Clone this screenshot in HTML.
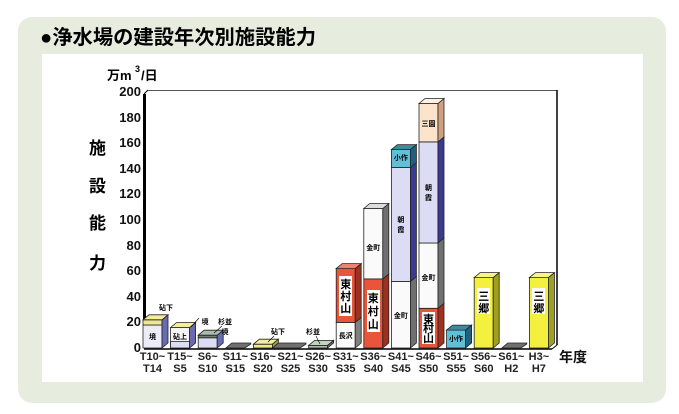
<!DOCTYPE html>
<html><head><meta charset="utf-8"><style>
body{margin:0;background:#fff;}
svg{display:block;font-family:"Liberation Sans","Noto Sans CJK JP",sans-serif;}
</style></head><body>
<svg width="679" height="414" viewBox="0 0 679 414" xmlns="http://www.w3.org/2000/svg">
<rect x="18" y="17" width="648" height="386" rx="14" fill="#e6eddf"/>
<rect x="42" y="54" width="601" height="328" fill="#fff"/>
<text x="40" y="44" font-size="20" font-weight="bold" fill="#000" textLength="276" lengthAdjust="spacingAndGlyphs">●浄水場の建設年次別施設能力</text>
<text x="107" y="80" font-size="13" font-weight="bold">万m</text><text x="135" y="72" font-size="9" font-weight="bold">3</text><text x="141" y="80" font-size="13" font-weight="bold">/日</text>
<g font-size="17" font-weight="bold"><text x="89" y="154">施</text><text x="89" y="192">設</text><text x="89" y="229">能</text><text x="89" y="269">力</text></g>
<g font-size="13" text-anchor="end" font-weight="bold" fill="#111">
<text x="141" y="352">0</text><text x="141" y="326">20</text><text x="141" y="301">40</text><text x="141" y="275">60</text><text x="141" y="250">80</text><text x="141" y="224">100</text><text x="141" y="198">120</text><text x="141" y="173">140</text><text x="141" y="147">160</text><text x="141" y="122">180</text><text x="141" y="96">200</text>
</g>
<g stroke="#000" fill="none">
<line x1="144.5" y1="348" x2="144.5" y2="94" stroke-width="3"/>
<line x1="144" y1="94" x2="148" y2="90"/>
<line x1="148" y1="90.5" x2="557" y2="90.5" stroke="#555"/>
<line x1="557" y1="90" x2="557" y2="345" stroke-width="1.5"/>
<line x1="144" y1="349" x2="552" y2="349" stroke-width="1.5"/>
<line x1="552" y1="349" x2="557" y2="345"/>
</g>
<g stroke="#222" stroke-width="0.8">
<rect x="143" y="325" width="19" height="23" fill="#ececf8"/><rect x="143" y="319.8" width="19" height="5.2" fill="#f0e890"/>
<polygon points="162,348 168,343 168,314.8 162,319.8" fill="#6a6ab0"/>
<polygon points="143,319.8 149,314.8 168,314.8 162,319.8" fill="#f4ee9a"/>
<rect x="170.6" y="327.5" width="19" height="20.5" fill="#f4f4f4"/><rect x="170.6" y="341.6" width="19" height="6.4" fill="#dcdcf4"/>
<polygon points="189.6,348 195.6,343 195.6,322.5 189.6,327.5" fill="#6a6ab0"/>
<polygon points="170.6,327.5 176.6,322.5 195.6,322.5 189.6,327.5" fill="#f4ee9a"/>
<rect x="198.2" y="337.8" width="19" height="10.2" fill="#dcdcf4"/><rect x="198.2" y="335.2" width="19" height="2.6" fill="#6c7c70"/>
<polygon points="217.2,348 223.2,343 223.2,330.2 217.2,335.2" fill="#6a6ab0"/>
<polygon points="198.2,335.2 204.2,330.2 223.2,330.2 217.2,335.2" fill="#aabcb0"/>
<polygon points="225.8,348 231.8,343 250.8,343 250.8,344 244.8,348" fill="#707070"/>
<rect x="253.4" y="344.2" width="19" height="3.8" fill="#f0e890"/>
<polygon points="253.4,344.2 259.4,339.2 278.4,339.2 272.4,344.2" fill="#f4ee9a"/>
<polygon points="272.4,348 278.4,343 278.4,339.2 272.4,344.2" fill="#a0a040"/>
<polygon points="278.4,343 306,343 306,344 300,348 272.4,348" fill="#707070"/>
<rect x="308.6" y="345.4" width="19" height="2.6" fill="#a8c0a8"/>
<polygon points="308.6,345.4 314.6,340.4 333.6,340.4 327.6,345.4" fill="#c0d4c0"/>
<polygon points="327.6,348 333.6,343 333.6,340.4 327.6,345.4" fill="#607060"/>
<rect x="336.2" y="322.4" width="19" height="25.6" fill="#fafafa"/><rect x="336.2" y="268.6" width="19" height="53.8" fill="#e8553a"/>
<polygon points="355.2,348 361.2,343 361.2,317.4 355.2,322.4" fill="#808080"/>
<polygon points="355.2,322.4 361.2,317.4 361.2,263.6 355.2,268.6" fill="#a03020"/>
<polygon points="336.2,268.6 342.2,263.6 361.2,263.6 355.2,268.6" fill="#f08070"/>
<rect x="363.8" y="278.9" width="19" height="69.1" fill="#e8553a"/><rect x="363.8" y="208.5" width="19" height="70.4" fill="#fafafa"/>
<polygon points="382.8,348 388.8,343 388.8,273.9 382.8,278.9" fill="#a03020"/>
<polygon points="382.8,278.9 388.8,273.9 388.8,203.5 382.8,208.5" fill="#707070"/>
<polygon points="363.8,208.5 369.8,203.5 388.8,203.5 382.8,208.5" fill="#ddd"/>
<rect x="391.4" y="281.4" width="19" height="66.6" fill="#fafafa"/><rect x="391.4" y="167.5" width="19" height="113.9" fill="#dcdcf4"/><rect x="391.4" y="149.6" width="19" height="17.9" fill="#60c0d8"/>
<polygon points="410.4,348 416.4,343 416.4,276.4 410.4,281.4" fill="#707070"/>
<polygon points="410.4,281.4 416.4,276.4 416.4,162.5 410.4,167.5" fill="#3a3a90"/>
<polygon points="410.4,167.5 416.4,162.5 416.4,144.6 410.4,149.6" fill="#206080"/>
<polygon points="391.4,149.6 397.4,144.6 416.4,144.6 410.4,149.6" fill="#3a8aa0"/>
<rect x="419" y="308.3" width="19" height="39.7" fill="#e8553a"/><rect x="419" y="243" width="19" height="65.3" fill="#fafafa"/><rect x="419" y="141.9" width="19" height="101.1" fill="#dcdcf4"/><rect x="419" y="103.5" width="19" height="38.4" fill="#fbe3cc"/>
<polygon points="438,348 444,343 444,303.3 438,308.3" fill="#a03020"/>
<polygon points="438,308.3 444,303.3 444,238 438,243" fill="#707070"/>
<polygon points="438,243 444,238 444,136.9 438,141.9" fill="#3a3a90"/>
<polygon points="438,141.9 444,136.9 444,98.5 438,103.5" fill="#d0a080"/>
<polygon points="419,103.5 425,98.5 444,98.5 438,103.5" fill="#fdf0e4"/>
<rect x="446.6" y="330.1" width="19" height="17.9" fill="#60c0d8"/>
<polygon points="465.6,348 471.6,343 471.6,325.1 465.6,330.1" fill="#206080"/>
<polygon points="446.6,330.1 452.6,325.1 471.6,325.1 465.6,330.1" fill="#3a8aa0"/>
<rect x="474.2" y="277.6" width="19" height="70.4" fill="#f4f040"/>
<polygon points="493.2,348 499.2,343 499.2,272.6 493.2,277.6" fill="#a0a020"/>
<polygon points="474.2,277.6 480.2,272.6 499.2,272.6 493.2,277.6" fill="#f8f680"/>
<polygon points="501.8,348 507.8,343 526.8,343 526.8,344 520.8,348" fill="#707070"/>
<rect x="529.4" y="277.6" width="19" height="70.4" fill="#f4f040"/>
<polygon points="548.4,348 554.4,343 554.4,272.6 548.4,277.6" fill="#a0a020"/>
<polygon points="529.4,277.6 535.4,272.6 554.4,272.6 548.4,277.6" fill="#f8f680"/>
</g>
<g fill="#fff">
<rect x="339" y="276" width="13" height="40"/><rect x="367" y="290" width="13" height="42"/><rect x="422" y="312" width="13" height="32"/>
<rect x="477" y="288" width="13" height="26"/><rect x="532" y="288" width="13" height="26"/>
</g>
<g font-size="11" font-weight="bold" text-anchor="middle" fill="#000">
<text x="345.7" y="288">東</text><text x="345.7" y="300">村</text><text x="345.7" y="312">山</text>
<text x="373.3" y="302">東</text><text x="373.3" y="315">村</text><text x="373.3" y="328">山</text>
<text x="428.5" y="323">東</text><text x="428.5" y="332">村</text><text x="428.5" y="342">山</text>
<text x="483.7" y="300">三</text><text x="483.7" y="312">郷</text>
<text x="538.9" y="300">三</text><text x="538.9" y="312">郷</text>
</g>
<g font-size="7" font-weight="bold" text-anchor="middle" fill="#000">
<text x="152.5" y="339">境</text><text x="180" y="339">砧上</text><text x="345.7" y="338">長沢</text>
<text x="373.3" y="250">金町</text><text x="400.9" y="318">金町</text><text x="428.5" y="280">金町</text>
<text x="400.9" y="160">小作</text><text x="456" y="341">小作</text><text x="428.5" y="126">三園</text>
<text x="400.9" y="222">朝</text><text x="400.9" y="232">霞</text><text x="428.5" y="190">朝</text><text x="428.5" y="200">霞</text>
<text x="166" y="310">砧下</text><text x="205" y="324">境</text><text x="225" y="324">杉並</text><text x="225" y="334">境</text>
<text x="278" y="334">砧下</text><text x="313" y="334">杉並</text>
</g>
<g stroke="#000" stroke-width="0.6">
<line x1="191" y1="327" x2="199" y2="318"/><line x1="214" y1="333" x2="222" y2="326"/><line x1="268" y1="342" x2="274" y2="336"/><line x1="320" y1="344" x2="316" y2="336"/>
</g>
<g font-size="11" font-weight="bold" text-anchor="middle" fill="#222">
<text x="152.5" y="360">T10~</text><text x="152.5" y="372">T14</text>
<text x="180" y="360">T15~</text><text x="180" y="372">S5</text>
<text x="207.7" y="360">S6~</text><text x="207.7" y="372">S10</text>
<text x="235.3" y="360">S11~</text><text x="235.3" y="372">S15</text>
<text x="262.9" y="360">S16~</text><text x="262.9" y="372">S20</text>
<text x="290.5" y="360">S21~</text><text x="290.5" y="372">S25</text>
<text x="318.1" y="360">S26~</text><text x="318.1" y="372">S30</text>
<text x="345.7" y="360">S31~</text><text x="345.7" y="372">S35</text>
<text x="373.3" y="360">S36~</text><text x="373.3" y="372">S40</text>
<text x="400.9" y="360">S41~</text><text x="400.9" y="372">S45</text>
<text x="428.5" y="360">S46~</text><text x="428.5" y="372">S50</text>
<text x="456.1" y="360">S51~</text><text x="456.1" y="372">S55</text>
<text x="483.7" y="360">S56~</text><text x="483.7" y="372">S60</text>
<text x="511.3" y="360">S61~</text><text x="511.3" y="372">H2</text>
<text x="538.9" y="360">H3~</text><text x="538.9" y="372">H7</text>
</g>
<text x="559" y="362" font-size="14" font-weight="bold" fill="#111">年度</text>
</svg>
</body></html>
